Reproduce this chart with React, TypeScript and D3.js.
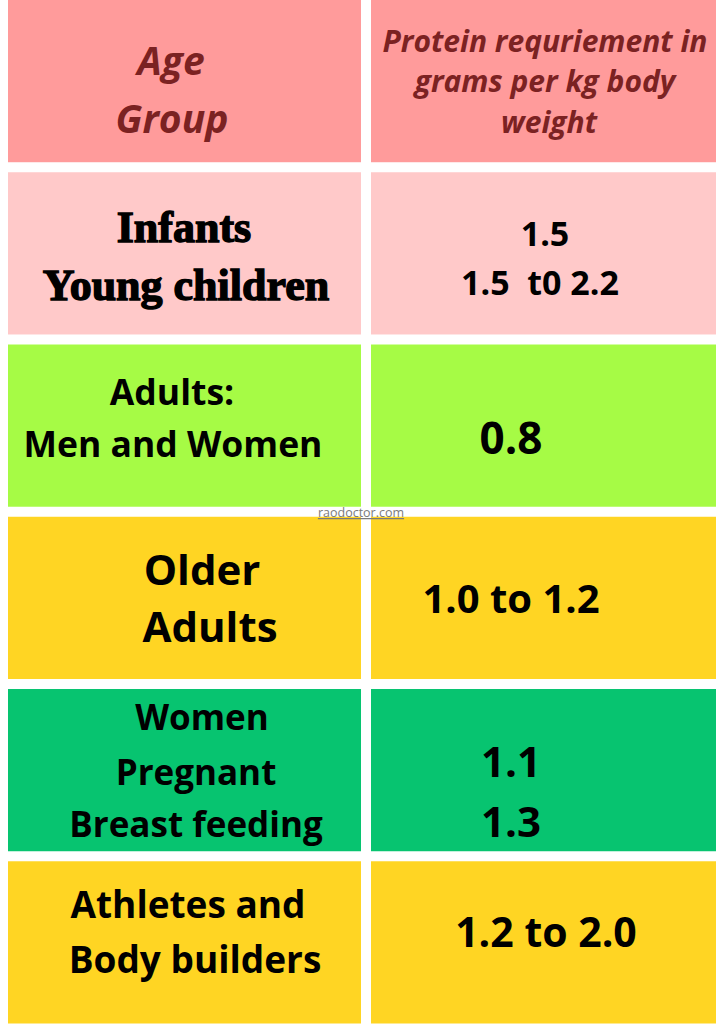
import React from "react";
import * as d3 from "d3";

// ---- data ----
const headerLeft = ["Age", "Group"];
const headerRight = ["Protein requriement in", "grams per kg body", "weight"];
const groupLines = [
  ["Infants", "Young children"],
  ["Adults:", "Men and Women"],
  ["Older", "Adults"],
  ["Women", "Pregnant", "Breast feeding"],
  ["Athletes and", "Body builders"],
];
const valueLines = [
  ["1.5", "1.5  t0 2.2"],
  ["0.8"],
  ["1.0 to 1.2"],
  ["1.1", "1.3"],
  ["1.2 to 2.0"],
];
const rowColors = ["#ff9b9b", "#ffc9c9", "#a6fb45", "#ffd523", "#07c470", "#ffd523"];
const watermark = "raodoctor.com";

// ---- layout ----
const W = 724;
const H = 1024;
const colLeft = [8, 371];
const colRight = [361, 716];

// per cell: font size, baselines offset from row top, x centre per line
const leftLayout = [
  { size: 39, base: [75, 133], x: [171, 172] },
  { size: 44, base: [70, 128], x: [184, 186] },
  { size: 35.5, base: [60.5, 112.5], x: [172, 173] },
  { size: 42, base: [68, 125], x: [202, 210] },
  { size: 35, base: [41, 96, 148], x: [202, 196, 196] },
  { size: 37, base: [57, 112], x: [188, 195] },
];
const rightLayout = [
  { size: 30, base: [52, 92, 133], x: [545, 545, 549] },
  { size: 34, base: [74, 123], x: [545, 540] },
  { size: 44, base: [109.5], x: [511] },
  { size: 40, base: [96], x: [511] },
  { size: 42, base: [88, 148], x: [511, 511] },
  { size: 41, base: [86], x: [546] },
];

const SANS = "'Open Sans', 'Noto Sans', sans-serif";
const SERIF = "'Liberation Serif', 'DejaVu Serif', serif";

export default function App() {
  const rows = d3.range(6);
  const y = d3.scaleBand<number>().domain(rows).range([0, 1023.5]).paddingInner(0.0582).paddingOuter(0);

  const leftTexts = [headerLeft, ...groupLines];
  const rightTexts = [headerRight, ...valueLines];

  return (
    <svg
      width={W}
      height={H}
      style={{ position: "absolute", left: 0, top: 0, background: "#ffffff" }}
    >
      <rect x={0} y={0} width={W} height={H} fill="#ffffff" />
      {rows.map((r) => {
        const top = y(r)!;
        const isHeader = r === 0;
        const color = isHeader ? "#7b2222" : "#000000";
        const serif = r === 1;
        return (
          <g key={r}>
            {[0, 1].map((c) => (
              <rect
                key={c}
                x={colLeft[c]}
                y={top}
                width={colRight[c] - colLeft[c]}
                height={y.bandwidth()}
                fill={rowColors[r]}
              />
            ))}
            {leftTexts[r].map((t, i) => (
              <text
                key={"l" + i}
                x={leftLayout[r].x[i]}
                y={top + leftLayout[r].base[i]}
                textAnchor="middle"
                fontFamily={serif ? SERIF : SANS}
                fontSize={leftLayout[r].size}
                fontWeight={700}
                fontStyle={isHeader ? "italic" : "normal"}
                fill={color}
                stroke={serif ? color : "none"}
                strokeWidth={serif ? 1.4 : 0}
                style={{ whiteSpace: "pre" }}
              >
                {t}
              </text>
            ))}
            {rightTexts[r].map((t, i) => (
              <text
                key={"r" + i}
                x={rightLayout[r].x[i]}
                y={top + rightLayout[r].base[i]}
                textAnchor="middle"
                fontFamily={SANS}
                fontSize={rightLayout[r].size}
                fontWeight={700}
                fontStyle={isHeader ? "italic" : "normal"}
                fill={color}
                style={{ whiteSpace: "pre" }}
              >
                {t}
              </text>
            ))}
          </g>
        );
      })}
      <text
        x={361}
        y={517}
        textAnchor="middle"
        fontFamily={SANS}
        fontSize={12.5}
        fill="#7a7a7a"
        textDecoration="underline"
      >
        {watermark}
      </text>
    </svg>
  );
}
